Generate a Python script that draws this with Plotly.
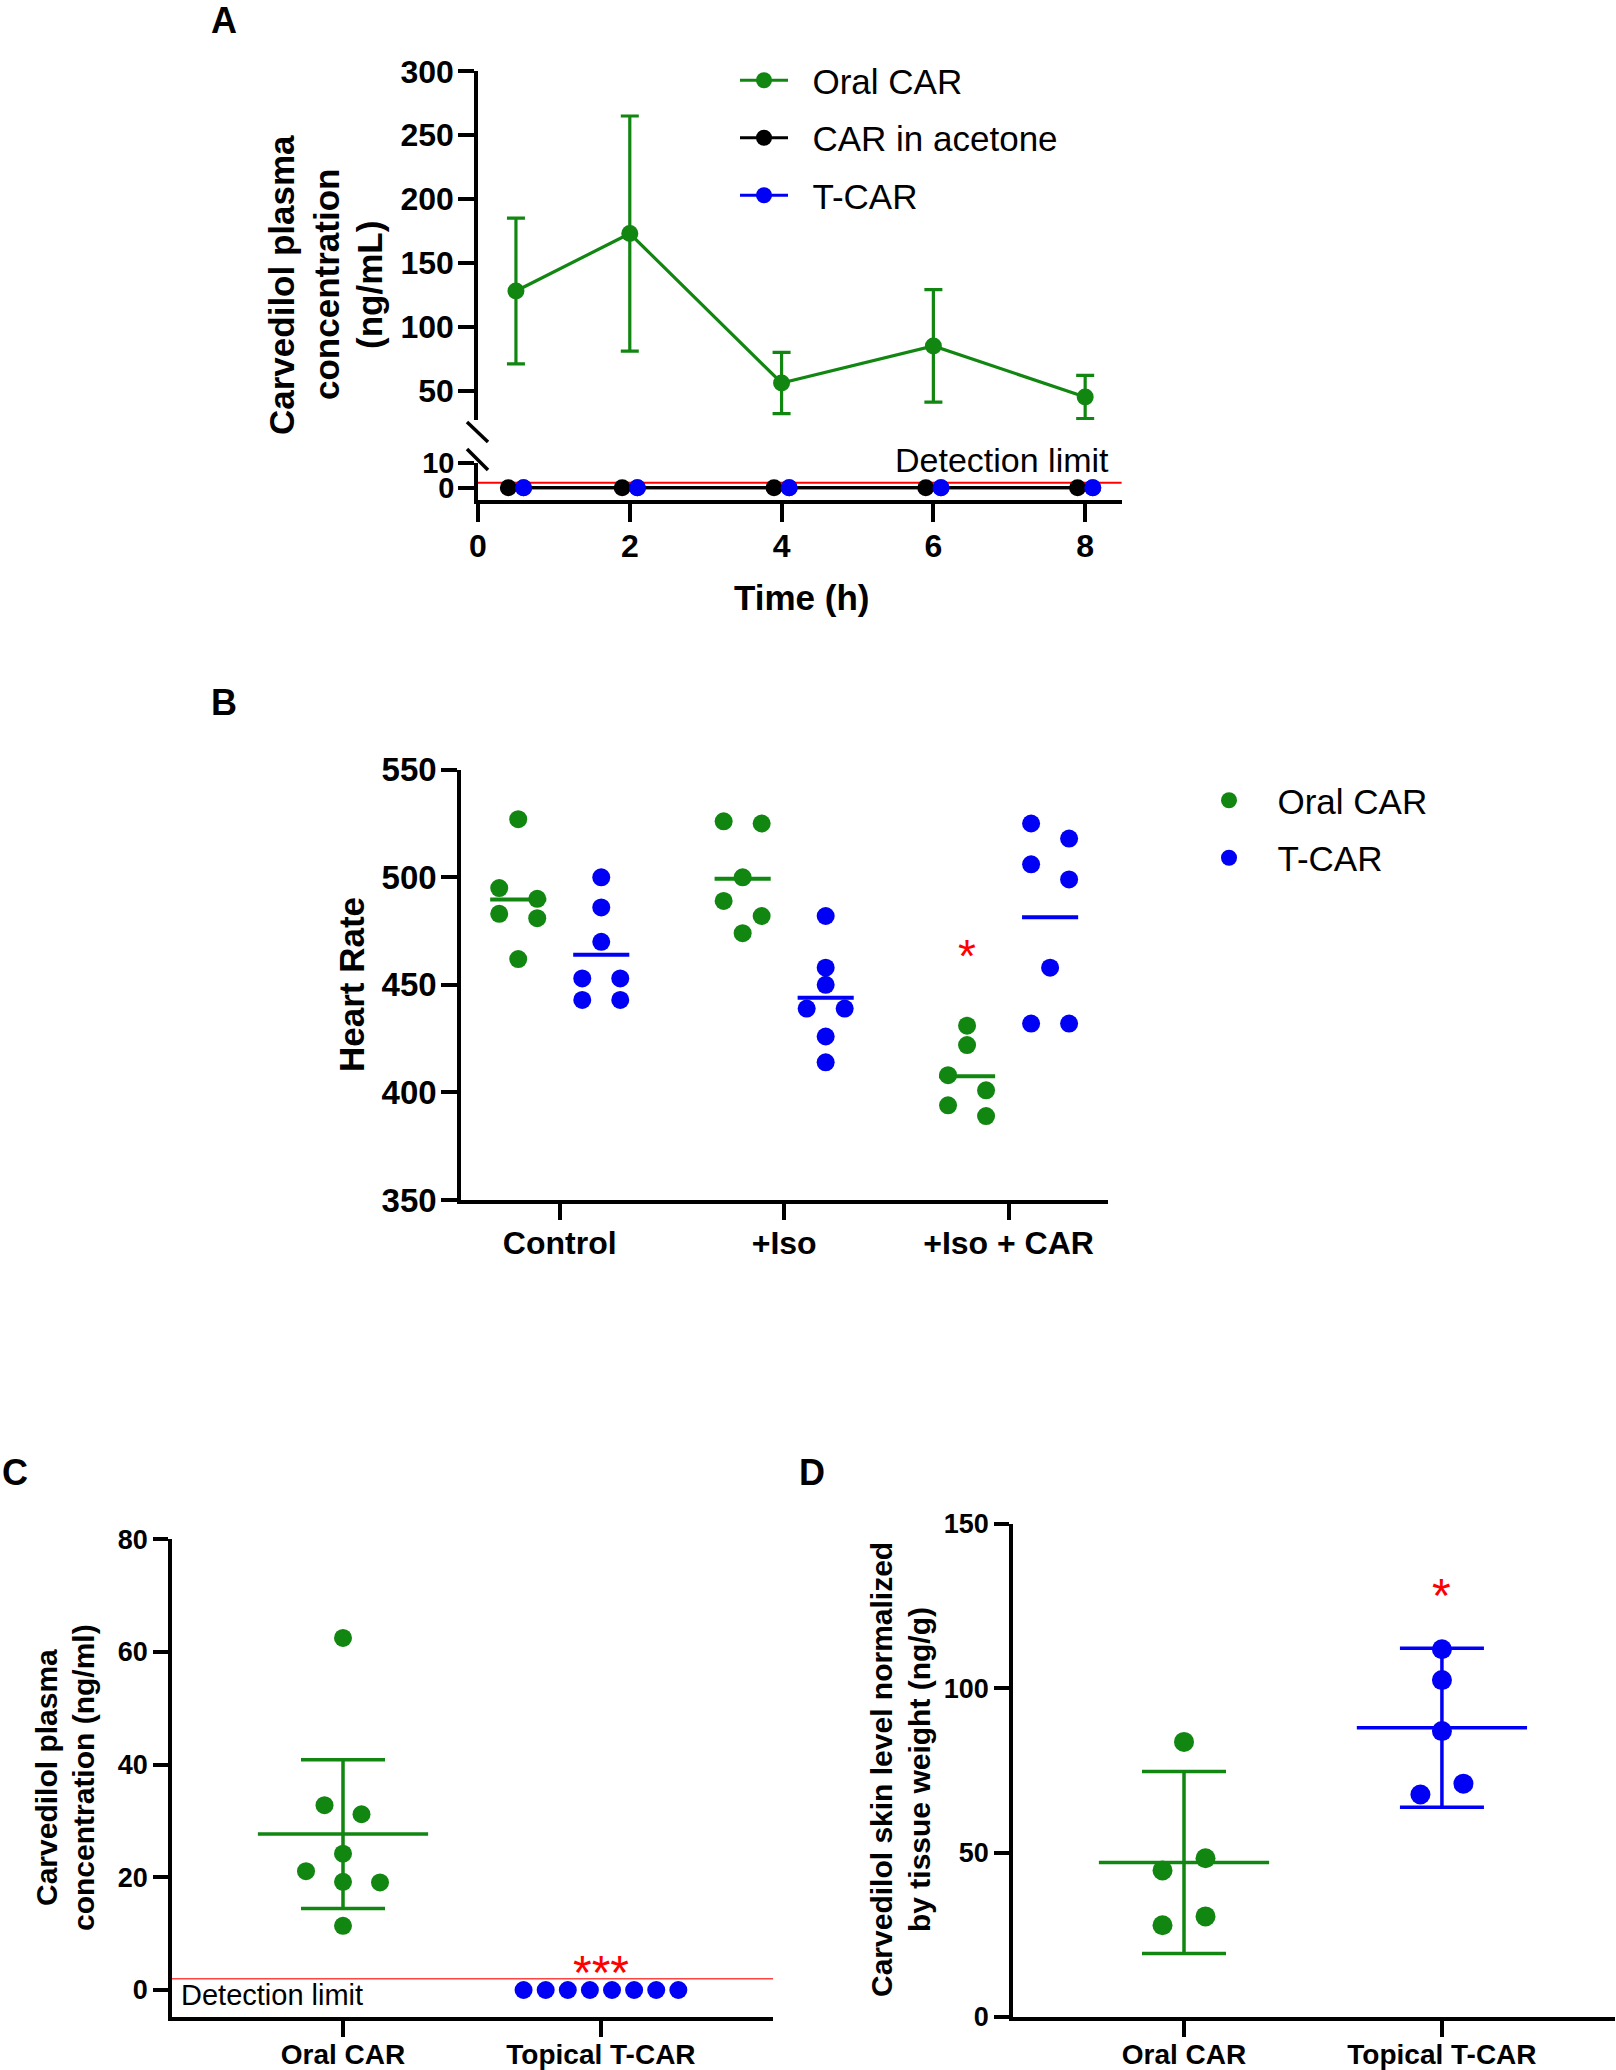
import plotly.graph_objects as go
import numpy as np

W, H = 1616, 2070
FONT = "Liberation Sans, Arial, Helvetica, sans-serif"
GREEN = "#118611"
BLUE = "#0000f5"
BLACK = "#000000"
RED = "#ff0000"

# ---------------- DATA ----------------
# Panel A: plasma concentration over time
time_h = [0.5, 2, 4, 6, 8]
oral_mean_A = [128, 173, 56, 85, 45]
oral_sd_A = [57, 92, 24, 44, 17]
acetone_A = [0, 0, 0, 0, 0]
tcar_A = [0, 0, 0, 0, 0]
detect_A = 2

# Panel B: heart rate
hr_groups = ["Control", "+Iso", "+Iso + CAR"]
hr_oral = [[527, 495, 490, 483, 481, 462],
           [526, 525, 500, 489, 482, 474],
           [431, 422, 408, 401, 394, 389]]
hr_tcar = [[500, 486, 470, 453, 453, 443, 443],
           [482, 458, 450, 439, 439, 426, 414],
           [525, 518, 506, 499, 458, 432, 432]]
hr_star_value = 469

# Panel C: plasma concentration, end point
c_groups = ["Oral CAR", "Topical T-CAR"]
c_oral = [62.5, 32.8, 31.2, 24.2, 21.1, 19.1, 19.2, 11.4]
c_tcar = [0, 0, 0, 0, 0, 0, 0, 0]
c_oral_sd = 13.2
detect_C = 2
c_star_value = 5.2

# Panel D: skin level
d_groups = ["Oral CAR", "Topical T-CAR"]
d_oral = [83.7, 48.3, 44.6, 30.6, 27.9]
d_tcar = [111.9, 102.5, 87.0, 71.0, 67.7]
d_sd = [27.7, 24.2]
d_star_value = 131.8

# ---------------- LAYOUT HELPERS ----------------
def px(x):
    return x / W


def py(y):
    return 1 - y / H


AX = {
    "A_x": dict(dom=(478, 1121.6), rng=(0, 8.48)),
    "A_yu": dict(dom=(420, 71.3), rng=(27, 300)),
    "A_yl": dict(dom=(500, 463), rng=(-5, 10)),
    "B_x": dict(dom=(461, 1108), rng=(-0.44, 2.443)),
    "B_y": dict(dom=(1200, 769.7), rng=(350, 550)),
    "C_x": dict(dom=(172, 773), rng=(-0.663, 1.667)),
    "C_y": dict(dom=(2017, 1539.3), rng=(-4.79, 80)),
    "D_x": dict(dom=(1013, 1615), rng=(-0.663, 1.671)),
    "D_y": dict(dom=(2017, 1524), rng=(0, 150)),
}


def ppu(key):
    a = AX[key]
    return abs(a["dom"][1] - a["dom"][0]) / (a["rng"][1] - a["rng"][0])


def xdom(key):
    a = AX[key]
    return [px(a["dom"][0]), px(a["dom"][1])]


def ydom(key):
    a = AX[key]
    return [py(a["dom"][0]), py(a["dom"][1])]


def swarm(values, px_per_unit, thr_px, step_px, max_span_px, higher_left=True):
    n = len(values)
    order = sorted(range(n), key=lambda i: -values[i])
    groups = []
    for i in order:
        if groups and abs(values[groups[-1][0]] - values[i]) * px_per_unit < thr_px:
            groups[-1].append(i)
        else:
            groups.append([i])
    offs = [0.0] * n
    for g in groups:
        m = len(g)
        step = step_px if m < 2 else min(step_px, max_span_px / (m - 1))
        members = g if higher_left else g[::-1]
        for k, idx in enumerate(members):
            offs[idx] = (k - (m - 1) / 2) * step
    return offs


fig = go.Figure()
PAD = "\u00a0\u00a0"

# ---------------- PANEL A ----------------
fig.add_trace(go.Scatter(
    x=time_h, y=oral_mean_A, mode="lines+markers", name=PAD + "Oral CAR",
    line=dict(color=GREEN, width=3.2), marker=dict(color=GREEN, size=17),
    error_y=dict(type="data", array=oral_sd_A, color=GREEN, thickness=3.2, width=9),
    xaxis="x", yaxis="y", legend="legend", legendgroup="a1", legendrank=1,
))
tA_black = [t - 0.1 for t in time_h]
tA_blue = [t + 0.1 for t in time_h]
fig.add_trace(go.Scatter(
    x=tA_blue, y=tcar_A, mode="lines+markers", name=PAD + "T-CAR",
    line=dict(color=BLUE, width=3.2), marker=dict(color=BLUE, size=17),
    xaxis="x", yaxis="y2", legend="legend", legendgroup="a3", legendrank=3,
))
fig.add_trace(go.Scatter(
    x=tA_black, y=acetone_A, mode="lines+markers", name=PAD + "CAR in acetone",
    line=dict(color=BLACK, width=3.2), marker=dict(color=BLACK, size=17),
    xaxis="x", yaxis="y2", legend="legend", legendgroup="a2", legendrank=2,
))
fig.add_trace(go.Scatter(
    x=tA_blue, y=tcar_A, mode="markers", showlegend=False,
    marker=dict(color=BLUE, size=17), xaxis="x", yaxis="y2",
))

# ---------------- PANEL B ----------------
b_pcat = ppu("B_x")
b_ppu = ppu("B_y")
series_B = [("Oral CAR", hr_oral, GREEN, -0.185), ("T-CAR", hr_tcar, BLUE, 0.185)]
for name, data, col, dodge in series_B:
    xs, ys = [], []
    for gi, vals in enumerate(data):
        offs = swarm(vals, b_ppu, 16.5, 38, 0.6 * b_pcat, True)
        xs += [gi + dodge + o / b_pcat for o in offs]
        ys += vals
        m = float(np.mean(vals))
        fig.add_trace(go.Scatter(
            x=[gi + dodge - 0.125, gi + dodge + 0.125], y=[m, m], mode="lines",
            line=dict(color=col, width=4), showlegend=False, hoverinfo="skip",
            xaxis="x2", yaxis="y3",
        ))
    fig.add_trace(go.Scatter(
        x=xs, y=ys, mode="markers", name=PAD + name, marker=dict(color=col, size=18),
        xaxis="x2", yaxis="y3", legend="legend2", legendgroup="b" + name,
    ))

# ---------------- PANEL C ----------------
c_pcat = ppu("C_x")
c_ppu = ppu("C_y")
c_mean = float(np.mean(c_oral))
fig.add_trace(go.Scatter(
    x=[0 - 0.33, 0 + 0.33], y=[c_mean, c_mean], mode="lines",
    line=dict(color=GREEN, width=3.5), showlegend=False, xaxis="x3", yaxis="y4",
))
fig.add_trace(go.Scatter(
    x=[0], y=[c_mean], mode="markers", marker=dict(size=1, opacity=0),
    error_y=dict(type="data", array=[c_oral_sd], color=GREEN, thickness=3.5, width=42),
    showlegend=False, xaxis="x3", yaxis="y4",
))
for gi, (vals, col) in enumerate([(c_oral, GREEN), (c_tcar, BLUE)]):
    offs = swarm(vals, c_ppu, 16.5, 37, 0.6 * c_pcat, True)
    fig.add_trace(go.Scatter(
        x=[gi + o / c_pcat for o in offs], y=vals, mode="markers",
        marker=dict(color=col, size=18), showlegend=False, xaxis="x3", yaxis="y4",
    ))

# ---------------- PANEL D ----------------
d_pcat = ppu("D_x")
d_ppu = ppu("D_y")
for gi, (vals, col) in enumerate([(d_oral, GREEN), (d_tcar, BLUE)]):
    m = float(np.mean(vals))
    fig.add_trace(go.Scatter(
        x=[gi - 0.33, gi + 0.33], y=[m, m], mode="lines",
        line=dict(color=col, width=3.5), showlegend=False, xaxis="x4", yaxis="y5",
    ))
    fig.add_trace(go.Scatter(
        x=[gi], y=[m], mode="markers", marker=dict(size=1, opacity=0),
        error_y=dict(type="data", array=[d_sd[gi]], color=col, thickness=3.5, width=42),
        showlegend=False, xaxis="x4", yaxis="y5",
    ))
for gi, (vals, col) in enumerate([(d_oral, GREEN), (d_tcar, BLUE)]):
    offs = swarm(vals, d_ppu, 16.5, 43, 0.6 * d_pcat, False)
    fig.add_trace(go.Scatter(
        x=[gi + o / d_pcat for o in offs], y=vals, mode="markers",
        marker=dict(color=col, size=20), showlegend=False, xaxis="x4", yaxis="y5",
    ))

# ---------------- AXES ----------------
def axis_style(tsize, **kw):
    d = dict(showline=True, linecolor="black", linewidth=3.5, ticks="outside",
             ticklen=16, tickwidth=3.5, tickcolor="black", showgrid=False,
             zeroline=False, automargin=False,
             tickfont=dict(family=FONT, size=tsize, color="black", weight="bold"),
             fixedrange=True)
    d.update(kw)
    return d


fig.update_layout(
    template="none",
    xaxis=axis_style(32, domain=xdom("A_x"), range=AX["A_x"]["rng"], anchor="y2",
                     tickvals=[0, 2, 4, 6, 8], ticklen=18, ticklabelstandoff=-3),
    yaxis=axis_style(32, domain=ydom("A_yu"), range=AX["A_yu"]["rng"], anchor="x",
                     tickvals=[50, 100, 150, 200, 250, 300], ticklabelstandoff=-2),
    yaxis2=axis_style(29, domain=ydom("A_yl"), range=AX["A_yl"]["rng"], anchor="x",
                      tickvals=[0, 10], ticklabelstandoff=-2),
    xaxis2=axis_style(32, domain=xdom("B_x"), range=AX["B_x"]["rng"], anchor="y3",
                      tickvals=[0, 1, 2], ticktext=hr_groups, ticklabelstandoff=-4),
    yaxis3=axis_style(33, domain=ydom("B_y"), range=AX["B_y"]["rng"], anchor="x2",
                      tickvals=[350, 400, 450, 500, 550], ticklabelstandoff=-2),
    xaxis3=axis_style(28, domain=xdom("C_x"), range=AX["C_x"]["rng"], anchor="y4",
                      tickvals=[0, 1], ticktext=c_groups, ticklabelstandoff=-6),
    yaxis4=axis_style(27, domain=ydom("C_y"), range=AX["C_y"]["rng"], anchor="x3",
                      tickvals=[0, 20, 40, 60, 80], ticklen=15),
    xaxis4=axis_style(28, domain=xdom("D_x"), range=AX["D_x"]["rng"], anchor="y5",
                      tickvals=[0, 1], ticktext=d_groups, ticklabelstandoff=-6),
    yaxis5=axis_style(27, domain=ydom("D_y"), range=AX["D_y"]["rng"], anchor="x4",
                      tickvals=[0, 50, 100, 150], ticklen=15),
)

# ---------------- SHAPES ----------------
shapes = [
    dict(type="line", xref="x domain", yref="y2", x0=0, x1=1, y0=detect_A, y1=detect_A,
         line=dict(color=RED, width=2), layer="below"),
    dict(type="line", xref="x3 domain", yref="y4", x0=0, x1=1, y0=detect_C, y1=detect_C,
         line=dict(color="#ff4444", width=1.5), layer="below"),
    dict(type="line", xref="paper", yref="paper", x0=px(467), y0=py(422), x1=px(488), y1=py(442),
         line=dict(color="black", width=3.5)),
    dict(type="line", xref="paper", yref="paper", x0=px(467), y0=py(449), x1=px(488), y1=py(470),
         line=dict(color="black", width=3.5)),
]
fig.update_layout(shapes=shapes)

# ---------------- ANNOTATIONS ----------------
ann = []


def label(text, x, y, size, bold=True, angle=0, xanchor="center", color="black",
          xref="paper", yref="paper", yshift=0):
    ann.append(dict(text=("<b>%s</b>" % text) if bold else text, x=x, y=y, xref=xref, yref=yref,
                    showarrow=False, textangle=angle, xanchor=xanchor, yanchor="middle",
                    yshift=yshift, font=dict(family=FONT, size=size, color=color)))


label("A", px(224), py(20), 36)
label("B", px(224), py(702), 36)
label("C", px(15), py(1472), 36)
label("D", px(812), py(1472), 36)

label("Carvedilol plasma", px(282), py(285), 35, angle=-90)
label("concentration", px(327), py(285), 35, angle=-90)
label("(ng/mL)", px(370), py(285), 35, angle=-90)
label("Time (h)", px(801), py(597), 35)
label("Detection limit", px(1111), py(460), 34, bold=False, xanchor="right")

label("Heart Rate", px(351), py(985), 35, angle=-90)
label("*", 2 - 0.185, hr_star_value, 46, bold=False, color=RED, xref="x2", yref="y3", yshift=-12)

label("Carvedilol plasma", px(46), py(1778), 30, angle=-90)
label("concentration (ng/ml)", px(83), py(1778), 30, angle=-90)
label("Detection limit", px(179), py(1995), 29, bold=False, xanchor="left")
label("***", 1, c_star_value, 48, bold=False, color=RED, xref="x3", yref="y4", yshift=-12)

label("Carvedilol skin level normalized", px(881), py(1770), 30, angle=-90)
label("by tissue weight (ng/g)", px(919), py(1770), 30, angle=-90)
label("*", 1, d_star_value, 48, bold=False, color=RED, xref="x4", yref="y5", yshift=-12)

fig.update_layout(annotations=ann)

# ---------------- LEGENDS ----------------
fig.update_layout(
    legend=dict(x=px(735), y=py(51), xanchor="left", yanchor="top",
                font=dict(family=FONT, size=35, color="black"), bgcolor="rgba(0,0,0,0)",
                traceorder="grouped", tracegroupgap=9, itemwidth=48, itemclick=False),
    legend2=dict(x=px(1200), y=py(771), xanchor="left", yanchor="top",
                 font=dict(family=FONT, size=35, color="black"), bgcolor="rgba(0,0,0,0)",
                 traceorder="grouped", tracegroupgap=9, itemwidth=48, itemclick=False),
    width=W, height=H, margin=dict(l=0, r=0, t=0, b=0, autoexpand=False),
    paper_bgcolor="white", plot_bgcolor="white",
    font=dict(family=FONT, color="black"),
    showlegend=True,
)

fig.write_html(
    "out.html",
    config={"displayModeBar": False},
    post_script="document.body.style.margin='0';document.body.style.overflow='hidden';",
)
